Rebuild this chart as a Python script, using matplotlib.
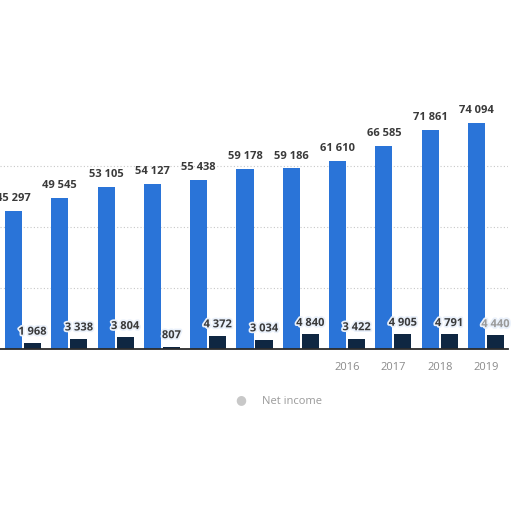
import matplotlib
matplotlib.use("Agg")
import matplotlib.pyplot as plt
import matplotlib.patheffects as pe
import numpy as np

years = ["2009", "2010", "2011", "2012", "2013", "2014", "2015", "2016", "2017", "2018", "2019"]
tick_labels = ["", "", "", "", "", "", "", "2016", "2017", "2018", "2019"]
revenue = [45297, 49545, 53105, 54127, 55438, 59178, 59186, 61610, 66585, 71861, 74094]
net_income = [1968, 3338, 3804, 807, 4372, 3034, 4840, 3422, 4905, 4791, 4440]

def fmt(v):
    return f"{v:,}".replace(",", " ")

plt.rcParams['font.family'] = ['Open Sans', 'DejaVu Sans']

fig = plt.figure(figsize=(5.12, 5.12), dpi=100)
ax = fig.add_axes([0, 163/512, 508/512, 244/512])

x = np.arange(len(years))
w = 0.37
off = 0.205
blue = "#2a74d8"
dark = "#0f2742"

ax.bar(x - off, revenue, width=w, color=blue, zorder=2)
ax.bar(x + off, net_income, width=w, color=dark, zorder=2)

ax.set_xlim(-0.497, 10.475)
ax.set_ylim(0, 80000)
ax.set_yticks([20000, 40000, 60000])
ax.yaxis.grid(True, linestyle=(0, (1, 2)), color="#c8c8c8", linewidth=0.8, zorder=0)
ax.tick_params(left=False, labelleft=False, bottom=False)
ax.set_xticks(x)
ax.set_xticklabels(tick_labels, color="#8a8a8a", fontsize=8)
ax.tick_params(axis='x', pad=6)
for s in ["top", "right", "left"]:
    ax.spines[s].set_visible(False)
ax.spines["bottom"].set_color("#2b2b2b")
ax.spines["bottom"].set_linewidth(1.3)

for i, v in enumerate(revenue):
    ax.annotate(fmt(v), (x[i] - off, v), xytext=(0, 7), textcoords="offset points",
                ha="center", va="baseline", fontsize=8, fontweight="bold", color="#3a3a3a",
                annotation_clip=False)
for i, v in enumerate(net_income):
    c = "#9a9a9a" if i == len(net_income) - 1 else "#3a3a3a"
    ax.annotate(fmt(v), (x[i] + off, v), xytext=(0, 6), textcoords="offset points",
                ha="center", va="baseline", fontsize=8, fontweight="bold", color=c,
                path_effects=[pe.withStroke(linewidth=2.5, foreground="#eaf1fb")],
                annotation_clip=False)

# legend
fig.text(241/512, 1 - 400/512, "\u25cf", color="#c8c8c8", fontsize=9, ha="center", va="center")
fig.text(262/512, 1 - 401/512, "Net income", color="#9a9a9a", fontsize=8, ha="left", va="center")

fig.savefig("out.png", dpi=100)
